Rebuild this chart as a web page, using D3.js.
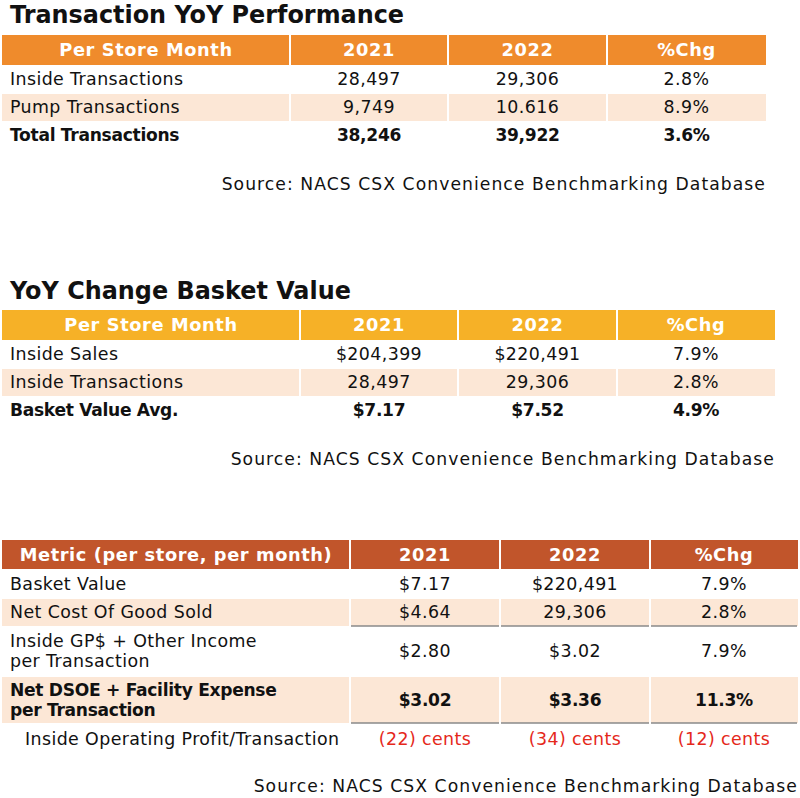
<!DOCTYPE html>
<html>
<head>
<meta charset="utf-8">
<script src="https://cdn.jsdelivr.net/npm/d3@7"></script>
<style>
  html, body { margin: 0; padding: 0; background: #fff; }
  svg { display: block; }
  text { font-family: "DejaVu Sans", sans-serif; }
</style>
</head>
<body>
<svg id="chart" width="800" height="798"></svg>
<script>
// ---------- DATA ----------
const sourceText = "Source: NACS CSX Convenience Benchmarking Database";

const t1Title = "Transaction YoY Performance";
const t1Header = ["Per Store Month", "2021", "2022", "%Chg"];
const t1Labels = ["Inside Transactions", "Pump Transactions", "Total Transactions"];
const t1V2021 = ["28,497", "9,749", "38,246"];
const t1V2022 = ["29,306", "10.616", "39,922"];
const t1Chg = ["2.8%", "8.9%", "3.6%"];

const t2Title = "YoY Change Basket Value";
const t2Header = ["Per Store Month", "2021", "2022", "%Chg"];
const t2Labels = ["Inside Sales", "Inside Transactions", "Basket Value Avg."];
const t2V2021 = ["$204,399", "28,497", "$7.17"];
const t2V2022 = ["$220,491", "29,306", "$7.52"];
const t2Chg = ["7.9%", "2.8%", "4.9%"];

const t3Header = ["Metric (per store, per month)", "2021", "2022", "%Chg"];
const t3Labels = [
  ["Basket Value"],
  ["Net Cost Of Good Sold"],
  ["Inside GP$ + Other Income", "per Transaction"],
  ["Net DSOE + Facility Expense", "per Transaction"],
  ["Inside Operating Profit/Transaction"]
];
const t3V2021 = ["$7.17", "$4.64", "$2.80", "$3.02", "(22) cents"];
const t3V2022 = ["$220,491", "29,306", "$3.02", "$3.36", "(34) cents"];
const t3Chg = ["7.9%", "2.8%", "7.9%", "11.3%", "(12) cents"];

// ---------- STYLE / LAYOUT ----------
const peach = "#fce7d6";
const svg = d3.select("#chart");

function drawTable(cfg) {
  const g = svg.append("g");
  const nCols = cfg.edges.length - 1;
  const colX = i => cfg.edges[i];
  const colW = i => cfg.edges[i + 1] - cfg.edges[i];

  const rowTops = [];
  let acc = cfg.headerBottom;
  cfg.rowHeights.forEach(h => { rowTops.push(acc); acc += h; });

  if (cfg.title) {
    g.append("text")
      .attr("x", cfg.edges[0] + 8).attr("y", cfg.titleY)
      .attr("font-size", 23.9).attr("font-weight", "bold").attr("fill", "#111")
      .text(cfg.title);
  }

  const hdr = g.selectAll("g.hdr").data(cfg.header).join("g");
  hdr.append("rect")
    .attr("x", (d, i) => colX(i) + (i > 0 ? 1 : 0))
    .attr("y", cfg.headerTop)
    .attr("width", (d, i) => colW(i) - (i > 0 ? 1 : 0) - (i < nCols - 1 ? 1 : 0))
    .attr("height", cfg.headerBottom - cfg.headerTop)
    .attr("fill", cfg.headerColor);
  hdr.append("text")
    .attr("x", (d, i) => colX(i) + colW(i) / 2)
    .attr("y", (cfg.headerTop + cfg.headerBottom) / 2)
    .attr("dy", "0.36em")
    .attr("text-anchor", "middle")
    .attr("font-size", 17.8).attr("font-weight", "bold").attr("fill", "#fff")
    .attr("letter-spacing", 0.6)
    .text(d => d);

  const rows = cfg.labels.map((lab, r) => ({
    r, cells: [lab, cfg.v2021[r], cfg.v2022[r], cfg.chg[r]]
  }));
  const rowG = g.selectAll("g.row").data(rows).join("g");

  rowG.each(function (row) {
    const rg = d3.select(this);
    const top = rowTops[row.r], h = cfg.rowHeights[row.r];
    const shaded = cfg.shaded[row.r];
    const bold = cfg.bold[row.r];
    const red = cfg.red && cfg.red[row.r];
    if (shaded) {
      rg.selectAll("rect").data(d3.range(nCols)).join("rect")
        .attr("x", i => colX(i) + (i > 0 ? 1 : 0))
        .attr("y", top + 1)
        .attr("width", i => colW(i) - (i > 0 ? 1 : 0) - (i < nCols - 1 ? 1 : 0))
        .attr("height", h - 1)
        .attr("fill", peach);
    }
    if (cfg.grayLines && cfg.grayLines[row.r]) {
      rg.selectAll("line").data(d3.range(1, nCols)).join("line")
        .attr("x1", i => colX(i) + 1).attr("x2", i => colX(i + 1) - 1)
        .attr("y1", top + h).attr("y2", top + h)
        .attr("stroke", "#8a8a8a").attr("stroke-width", 1.5);
    }
    row.cells.forEach((c, i) => {
      const lines = Array.isArray(c) ? c : [c];
      const lh = 20;
      const cy = top + h / 2;
      lines.forEach((ln, k) => {
        const y = cy + (k - (lines.length - 1) / 2) * lh;
        rg.append("text")
          .attr("x", i === 0 ? colX(0) + (cfg.indent && cfg.indent[row.r] ? 23 : 8) : colX(i) + colW(i) / 2)
          .attr("y", y).attr("dy", "0.36em")
          .attr("text-anchor", i === 0 ? "start" : "middle")
          .attr("font-size", bold ? 17.1 : 17.4)
          .attr("letter-spacing", bold ? -0.3 : 0.4)
          .attr("font-weight", bold ? "bold" : "normal")
          .attr("fill", (red && i > 0) ? "#e5281b" : "#111")
          .text(ln);
      });
    });
  });

  g.append("text")
    .attr("x", cfg.edges[nCols]).attr("y", cfg.sourceY).attr("dy", "0.36em")
    .attr("text-anchor", "end").attr("font-size", 17.2).attr("fill", "#111")
    .attr("letter-spacing", 1.05)
    .text(sourceText);
}

drawTable({
  title: t1Title, titleY: 23,
  header: t1Header, labels: t1Labels, v2021: t1V2021, v2022: t1V2022, chg: t1Chg,
  edges: [2, 290, 448, 607, 766],
  headerTop: 35, headerBottom: 65,
  rowHeights: [28, 28, 28],
  shaded: [false, true, false], bold: [false, false, true],
  headerColor: "#ef8b2c", sourceY: 184
});

drawTable({
  title: t2Title, titleY: 299,
  header: t2Header, labels: t2Labels, v2021: t2V2021, v2022: t2V2022, chg: t2Chg,
  edges: [2, 300, 458, 617, 775],
  headerTop: 310, headerBottom: 340,
  rowHeights: [28, 28, 28],
  shaded: [false, true, false], bold: [false, false, true],
  headerColor: "#f6b127", sourceY: 459
});

drawTable({
  title: null,
  header: t3Header, labels: t3Labels, v2021: t3V2021, v2022: t3V2022, chg: t3Chg,
  edges: [2, 350, 500, 650, 798],
  headerTop: 540, headerBottom: 569,
  rowHeights: [29, 28, 50, 47, 32],
  shaded: [false, true, false, true, false],
  bold: [false, false, false, true, false],
  red: [false, false, false, false, true],
  indent: [false, false, false, false, true],
  grayLines: [false, true, false, true, false],
  headerColor: "#c1552b", sourceY: 786
});
</script>
</body>
</html>
